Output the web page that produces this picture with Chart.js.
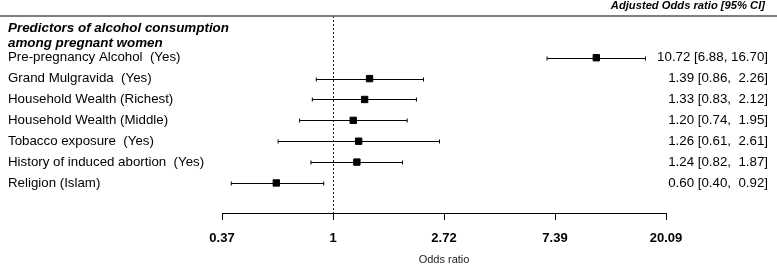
<!DOCTYPE html>
<html>
<head>
<meta charset="utf-8">
<script src="https://cdn.jsdelivr.net/npm/chart.js@4.4.1/dist/chart.umd.min.js"></script>
<style>
    html, body { margin: 0; padding: 0; background: #fff; }
    .chart-container { position: relative; width: 777px; height: 265px; }
</style>
</head>
<body>
<div class="chart-container">
    <canvas id="forest"></canvas>
</div>
<script>
let rowLabels = [
    'Pre-pregnancy Alcohol  (Yes)',
    'Grand Mulgravida  (Yes)',
    'Household Wealth (Richest)',
    'Household Wealth (Middle)',
    'Tobacco exposure  (Yes)',
    'History of induced abortion  (Yes)',
    'Religion (Islam)'
];
let oddsRatio = [10.72, 1.39, 1.33, 1.20, 1.26, 1.24, 0.60];
let ciLow = [6.88, 0.86, 0.83, 0.74, 0.61, 0.82, 0.40];
let ciHigh = [16.70, 2.26, 2.12, 1.95, 2.61, 1.87, 0.92];

let tickPowers = [-1, 0, 1, 2, 3];
let tickLabels = ['0.37', '1', '2.72', '7.39', '20.09'];

let groupTitle = ['Predictors of alcohol consumption', 'among pregnant women'];
let headerText = 'Adjusted Odds ratio [95% CI]';

let fontFamily = "'Liberation Sans', Arial, sans-serif";

// text for the right column, e.g. "1.39 [0.86,  2.26]"
let orText = oddsRatio.map(function (v, i) {
    let gap = ciHigh[i] >= 10 ? ' ' : '  ';
    return v.toFixed(2) + ' [' + ciLow[i].toFixed(2) + ',' + gap + ciHigh[i].toFixed(2) + ']';
});

let points = oddsRatio.map(function (v, i) {
    return { x: v, y: i };
});

// whiskers, header, top rule, right column and reference line
let forestDecor = {
    id: 'forestDecor',
    beforeDatasetsDraw: function (chart) {
        let ctx = chart.ctx;
        let x = chart.scales.x;
        let y = chart.scales.y;
        let area = chart.chartArea;
        ctx.save();

        // reference line at OR = 1
        ctx.strokeStyle = '#222';
        ctx.lineWidth = 1;
        ctx.setLineDash([2, 2]);
        let x1 = Math.round(x.getPixelForValue(1)) + 0.5;
        ctx.beginPath();
        ctx.moveTo(x1, area.top);
        ctx.lineTo(x1, area.bottom);
        ctx.stroke();
        ctx.setLineDash([]);

        // confidence intervals
        ctx.strokeStyle = '#000';
        ctx.lineWidth = 1;
        for (let i = 0; i < oddsRatio.length; i++) {
            let py = Math.round(y.getPixelForValue(i)) + 0.5;
            let a = x.getPixelForValue(ciLow[i]);
            let b = x.getPixelForValue(ciHigh[i]);
            ctx.beginPath();
            ctx.moveTo(a, py);
            ctx.lineTo(b, py);
            ctx.moveTo(a, py - 2);
            ctx.lineTo(a, py + 2);
            ctx.moveTo(b, py - 2);
            ctx.lineTo(b, py + 2);
            ctx.stroke();
        }

        // top rule
        ctx.strokeStyle = '#555';
        ctx.lineWidth = 1.5;
        ctx.beginPath();
        ctx.moveTo(0, 16);
        ctx.lineTo(chart.width, 16);
        ctx.stroke();

        // header
        ctx.fillStyle = '#000';
        ctx.font = 'italic bold 11.2px ' + fontFamily;
        ctx.textAlign = 'right';
        ctx.textBaseline = 'middle';
        ctx.fillText(headerText, 765, 6);

        // right column
        ctx.font = '13.3px ' + fontFamily;
        for (let i = 0; i < orText.length; i++) {
            ctx.fillText(orText[i], 768, y.getPixelForValue(i));
        }

        // group heading
        ctx.font = 'italic bold 13.4px ' + fontFamily;
        ctx.textAlign = 'left';
        ctx.fillText(groupTitle[0], 8, 28);
        ctx.fillText(groupTitle[1], 8, 43);

        ctx.restore();
    }
};

var ctxForest = document.getElementById('forest').getContext('2d');
var forestChart = new Chart(ctxForest, {
    type: 'scatter',
    data: {
        datasets: [{
            label: 'Adjusted Odds ratio',
            data: points,
            pointStyle: 'rect',
            pointRadius: 4.5,
            backgroundColor: '#000',
            borderColor: '#000',
            borderWidth: 1
        }]
    },
    plugins: [forestDecor],
    options: {
        responsive: true,
        maintainAspectRatio: false,
        animation: false,
        layout: {
            padding: { top: 16, left: 8, right: 111, bottom: 0 }
        },
        scales: {
            x: {
                type: 'logarithmic',
                min: Math.exp(tickPowers[0]),
                max: Math.exp(tickPowers[tickPowers.length - 1]),
                afterBuildTicks: function (scale) {
                    scale.ticks = tickPowers.map(function (p) {
                        return { value: Math.exp(p) };
                    });
                },
                afterFit: function (scale) {
                    scale.height = 52;
                },
                ticks: {
                    autoSkip: false,
                    maxRotation: 0,
                    padding: 11,
                    color: '#000',
                    font: { family: fontFamily, size: 13, weight: 'bold' },
                    callback: function (value, index) {
                        return tickLabels[index];
                    }
                },
                grid: {
                    drawOnChartArea: false,
                    drawTicks: true,
                    tickLength: 7,
                    color: '#000'
                },
                border: { display: true, color: '#000', width: 1 },
                title: {
                    display: true,
                    text: 'Odds ratio',
                    color: '#222',
                    font: { family: fontFamily, size: 11 },
                    padding: { top: 0, bottom: -2 }
                }
            },
            y: {
                type: 'linear',
                position: 'left',
                reverse: true,
                min: -2.0,
                max: 7.44,
                afterBuildTicks: function (scale) {
                    scale.ticks = rowLabels.map(function (_, i) {
                        return { value: i };
                    });
                },
                afterFit: function (scale) {
                    scale.width = 214;
                },
                ticks: {
                    autoSkip: false,
                    crossAlign: 'far',
                    padding: 0,
                    color: '#000',
                    font: { family: fontFamily, size: 13.3 },
                    callback: function (value) {
                        return rowLabels[value];
                    }
                },
                grid: { display: false },
                border: { display: false }
            }
        },
        plugins: {
            legend: { display: false },
            tooltip: { enabled: false }
        }
    }
});
</script>
</body>
</html>
